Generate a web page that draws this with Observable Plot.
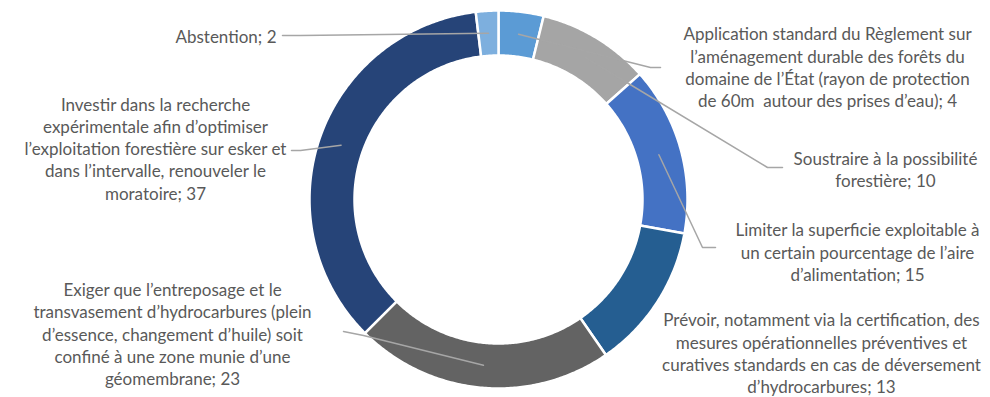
<!DOCTYPE html>
<html>
<head>
<meta charset="utf-8">
<script src="https://cdn.jsdelivr.net/npm/d3@7"></script>
<script src="https://cdn.jsdelivr.net/npm/@observablehq/plot@0.6"></script>
<style>
  html, body { margin: 0; padding: 0; background: #fff; }
  #chart { width: 990px; height: 397px; }
</style>
</head>
<body>
<div id="chart"></div>
<script>
// ---- data ----
const categories = [
  "Application standard du Règlement sur\nl’aménagement durable des forêts du\ndomaine de l’État (rayon de protection\nde 60m  autour des prises d’eau); 4",
  "Soustraire à la possibilité\nforestière; 10",
  "Limiter la superficie exploitable à\nun certain pourcentage de l’aire\nd’alimentation; 15",
  "Prévoir, notamment via la certification, des\nmesures opérationnelles préventives et\ncuratives standards en cas de déversement\nd’hydrocarbures; 13",
  "Exiger que l’entreposage et le\ntransvasement d’hydrocarbures (plein\nd’essence, changement d’huile) soit\nconfiné à une zone munie d’une\ngéomembrane; 23",
  "Investir dans la recherche\nexpérimentale afin d’optimiser\nl’exploitation forestière sur esker et\ndans l’intervalle, renouveler le\nmoratoire; 37",
  "Abstention; 2"
];
const values = [4, 10, 15, 13, 23, 37, 2];

// ---- styles / layout ----
const colors = ["#5B9BD5", "#A5A5A5", "#4472C4", "#255E91", "#636363", "#264478", "#7DAFDE"];
const W = 990, H = 397;
const cx = 498, cy = 199, rOuter = 189, rInner = 144;
// label block centers and text anchors
const labelX = [827, 885, 857, 821, 172, 155, 276];
const labelY = [66, 168, 251, 352, 333, 147.5, 35];
const labelAnchor = ["middle", "middle", "middle", "middle", "middle", "middle", "end"];
// leader line elbow and end points (null = no leader)
const leaderElbow = [[650, 67], [767, 167], [702, 247], null, [363, 335], [300, 150], [300, 35]];
const leaderEnd = [[660, 67], [782, 167], [715, 247], null, [343, 331], [291, 150], [282, 35]];

// ---- geometry from values ----
const pie = d3.pie().sort(null).startAngle(0).endAngle(2 * Math.PI)(values);
const pt = (r, a) => [cx + r * Math.sin(a), cy - r * Math.cos(a)];

const slicePts = [];
pie.forEach((p, i) => {
  const n = Math.max(8, Math.ceil((p.endAngle - p.startAngle) / 0.01));
  for (let k = 0; k <= n; k++) {
    const a = p.startAngle + (p.endAngle - p.startAngle) * k / n;
    const [x, y] = pt(rOuter, a);
    slicePts.push({key: i, x, y, color: colors[i]});
  }
  for (let k = n; k >= 0; k--) {
    const a = p.startAngle + (p.endAngle - p.startAngle) * k / n;
    const [x, y] = pt(rInner, a);
    slicePts.push({key: i, x, y, color: colors[i]});
  }
});

const leaderPts = [];
pie.forEach((p, i) => {
  if (!leaderElbow[i]) return;
  const mid = (p.startAngle + p.endAngle) / 2;
  const [x0, y0] = pt((rOuter + rInner) / 2, mid);
  leaderPts.push({key: i, x: x0, y: y0});
  leaderPts.push({key: i, x: leaderElbow[i][0], y: leaderElbow[i][1]});
  leaderPts.push({key: i, x: leaderEnd[i][0], y: leaderEnd[i][1]});
});

const labels = categories.map((c, i) => ({text: c, x: labelX[i], y: labelY[i], anchor: labelAnchor[i]}));

const chart = Plot.plot({
  width: W,
  height: H,
  margin: 0,
  x: {domain: [0, W], range: [0, W], axis: null},
  y: {domain: [0, H], range: [0, H], axis: null},
  style: {background: "#fff", fontFamily: "Lato, 'Open Sans', sans-serif"},
  marks: [
    Plot.line(slicePts, {x: "x", y: "y", z: "key", fill: "color", stroke: "#fff", strokeWidth: 2.5, curve: "linear-closed"}),
    Plot.line(leaderPts, {x: "x", y: "y", z: "key", stroke: "#A6A6A6", strokeWidth: 1.5}),
    Plot.text(labels.filter(d => d.anchor === "middle"), {x: "x", y: "y", text: "text", textAnchor: "middle", fill: "#595959", fontSize: 17, lineHeight: 1.31}),
    Plot.text(labels.filter(d => d.anchor === "end"), {x: "x", y: "y", text: "text", textAnchor: "end", fill: "#595959", fontSize: 17, lineHeight: 1.31})
  ]
});
document.getElementById("chart").appendChild(chart);
</script>
</body>
</html>
